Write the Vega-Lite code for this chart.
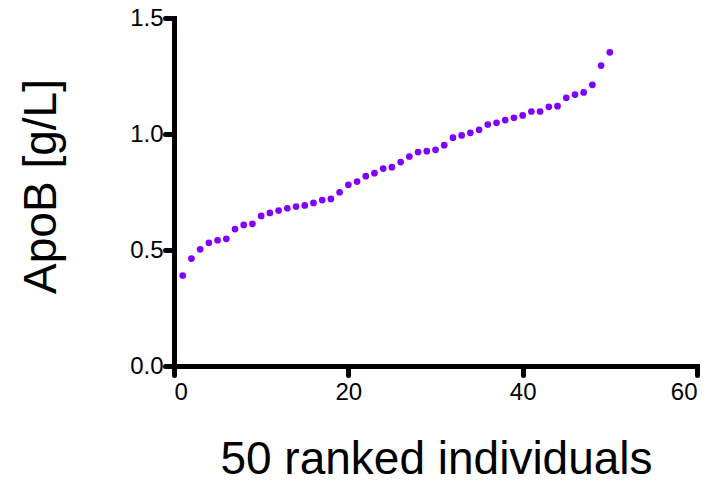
{
  "$schema": "https://vega.github.io/schema/vega-lite/v6.json",
  "autosize": {"type": "none"},
  "width": 523,
  "height": 348,
  "padding": {"left": 174, "top": 18, "right": 28, "bottom": 116},
  "background": "white",
  "config": {
    "view": {"stroke": null},
    "font": "Liberation Sans"
  },
  "data": {
    "values": [
      {"rank": 1, "apob": 0.39},
      {"rank": 2, "apob": 0.463},
      {"rank": 3, "apob": 0.503},
      {"rank": 4, "apob": 0.531},
      {"rank": 5, "apob": 0.542},
      {"rank": 6, "apob": 0.548},
      {"rank": 7, "apob": 0.59},
      {"rank": 8, "apob": 0.608},
      {"rank": 9, "apob": 0.613},
      {"rank": 10, "apob": 0.647},
      {"rank": 11, "apob": 0.66},
      {"rank": 12, "apob": 0.67},
      {"rank": 13, "apob": 0.68},
      {"rank": 14, "apob": 0.687},
      {"rank": 15, "apob": 0.692},
      {"rank": 16, "apob": 0.703},
      {"rank": 17, "apob": 0.715},
      {"rank": 18, "apob": 0.72},
      {"rank": 19, "apob": 0.749},
      {"rank": 20, "apob": 0.781},
      {"rank": 21, "apob": 0.795},
      {"rank": 22, "apob": 0.818},
      {"rank": 23, "apob": 0.831},
      {"rank": 24, "apob": 0.851},
      {"rank": 25, "apob": 0.857},
      {"rank": 26, "apob": 0.879},
      {"rank": 27, "apob": 0.903},
      {"rank": 28, "apob": 0.922},
      {"rank": 29, "apob": 0.926},
      {"rank": 30, "apob": 0.932},
      {"rank": 31, "apob": 0.952},
      {"rank": 32, "apob": 0.984},
      {"rank": 33, "apob": 0.994},
      {"rank": 34, "apob": 1.005},
      {"rank": 35, "apob": 1.018},
      {"rank": 36, "apob": 1.041},
      {"rank": 37, "apob": 1.048},
      {"rank": 38, "apob": 1.06},
      {"rank": 39, "apob": 1.07},
      {"rank": 40, "apob": 1.08},
      {"rank": 41, "apob": 1.097},
      {"rank": 42, "apob": 1.097},
      {"rank": 43, "apob": 1.117},
      {"rank": 44, "apob": 1.12},
      {"rank": 45, "apob": 1.156},
      {"rank": 46, "apob": 1.17},
      {"rank": 47, "apob": 1.179},
      {"rank": 48, "apob": 1.212},
      {"rank": 49, "apob": 1.295},
      {"rank": 50, "apob": 1.352}
    ]
  },
  "mark": {"type": "point", "filled": true, "opacity": 1, "color": "#7F00FF", "size": 45},
  "encoding": {
    "x": {
      "field": "rank",
      "type": "quantitative",
      "scale": {"domain": [0, 60], "nice": false, "zero": false},
      "axis": {
        "values": [0, 20, 40, 60],
        "grid": false,
        "domainColor": "black",
        "domainWidth": 5,
        "domainCap": "square",
        "tickColor": "black",
        "tickWidth": 5,
        "tickSize": 9,
        "tickCap": "round",
        "labelFont": "Liberation Sans",
        "labelFontSize": 24,
        "labelColor": "black",
        "labelPadding": 5,
        "title": "50 ranked individuals",
        "titleFont": "Liberation Sans",
        "titleFontSize": 46,
        "titleFontWeight": "normal",
        "titleColor": "black",
        "titleX": 262,
        "titleY": 107,
        "titleBaseline": "alphabetic",
        "titleAlign": "center"
      }
    },
    "y": {
      "field": "apob",
      "type": "quantitative",
      "scale": {"domain": [0, 1.5], "nice": false},
      "axis": {
        "values": [0, 0.5, 1.0, 1.5],
        "format": ".1f",
        "grid": false,
        "domainColor": "black",
        "domainWidth": 5,
        "domainCap": "square",
        "tickColor": "black",
        "tickWidth": 5,
        "tickSize": 9,
        "tickCap": "round",
        "labelFont": "Liberation Sans",
        "labelFontSize": 24,
        "labelColor": "black",
        "labelPadding": 2,
        "title": "ApoB [g/L]",
        "titleFont": "Liberation Sans",
        "titleFontSize": 46,
        "titleFontWeight": "normal",
        "titleColor": "black",
        "titleAngle": -90,
        "titleX": -119,
        "titleY": 168,
        "titleBaseline": "alphabetic",
        "titleAlign": "center"
      }
    }
  }
}
